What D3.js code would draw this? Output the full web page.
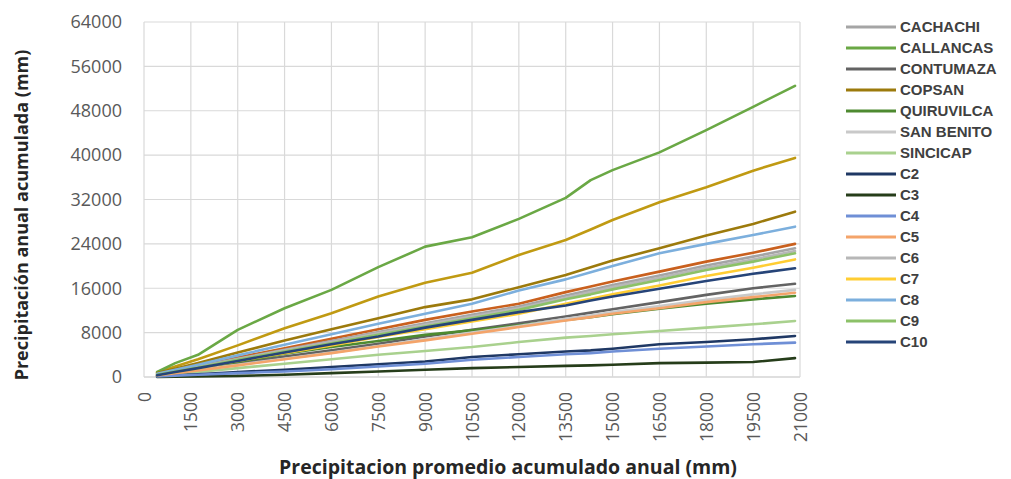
<!DOCTYPE html>
<html>
<head>
<meta charset="utf-8">
<script src="https://cdn.jsdelivr.net/npm/d3@7"></script>
<style>
  html, body { margin: 0; padding: 0; background: #ffffff; }
  svg { display: block; }
</style>
</head>
<body>
<svg id="chart" width="1011" height="479"></svg>
<script>
// ---- data ----
const xValues = [420, 1000, 1730, 3000, 4500, 6000, 7500, 9000, 10500, 12000, 13500, 14300, 15000, 16500, 18000, 19500, 20840];
const xTickValues = [0, 1500, 3000, 4500, 6000, 7500, 9000, 10500, 12000, 13500, 15000, 16500, 18000, 19500, 21000];
const yTickValues = [0, 8000, 16000, 24000, 32000, 40000, 48000, 56000, 64000];

const seriesNames = ["CACHACHI", "CALLANCAS", "CONTUMAZA", "COPSAN", "QUIRUVILCA", "SAN BENITO", "SINCICAP",
                     "C2", "C3", "C4", "C5", "C6", "C7", "C8", "C9", "C10"];
const seriesColors = ["#a5a5a5", "#6aa845", "#636363", "#9c7a0c", "#4e8a30", "#c9c9c9", "#a9d18e",
                      "#1f3864", "#263d1a", "#6f8fd6", "#f4a46a", "#b7b7b7", "#ffcd33", "#7cafdd", "#8cc168", "#264478"];

const cachachi   = [500, 1100, 1900, 3300, 4900, 6500, 8100, 9700, 11200, 12700, 14700, 15700, 16600, 18300, 20100, 21700, 23200];
const callancas  = [900, 2500, 4000, 8500, 12400, 15700, 19800, 23500, 25200, 28500, 32300, 35500, 37300, 40500, 44500, 48700, 52500];
const contumaza  = [300, 800, 1400, 2500, 3700, 4800, 6000, 7300, 8500, 9700, 10900, 11600, 12200, 13500, 14800, 16000, 16800];
const copsan     = [700, 1500, 2500, 4400, 6600, 8600, 10600, 12600, 14000, 16200, 18400, 19800, 21000, 23200, 25500, 27600, 29800];
const quiruvilca = [200, 600, 1300, 2700, 4200, 5400, 6500, 7600, 8400, 9300, 10300, 10800, 11300, 12300, 13200, 14000, 14600];
const sanBenito  = [300, 750, 1300, 2200, 3300, 4400, 5600, 6800, 8000, 9200, 10500, 11100, 11700, 12800, 13900, 14900, 15700];
const sincicap   = [200, 500, 900, 1600, 2400, 3200, 4000, 4700, 5400, 6300, 7100, 7400, 7700, 8300, 8900, 9500, 10100];
const c2         = [100, 300, 500, 900, 1300, 1800, 2300, 2800, 3600, 4100, 4600, 4800, 5100, 5900, 6300, 6800, 7400];
const c3         = [0, 50, 100, 200, 400, 700, 1000, 1300, 1600, 1800, 2000, 2100, 2200, 2500, 2600, 2700, 3400];
const c4         = [100, 250, 400, 700, 1000, 1400, 1900, 2400, 3100, 3600, 4100, 4300, 4600, 5100, 5500, 5900, 6200];
const c5         = [300, 700, 1200, 2100, 3200, 4300, 5500, 6600, 7800, 9000, 10200, 10800, 11400, 12400, 13500, 14400, 15200];
const c6         = [450, 1050, 1800, 3200, 4800, 6300, 7900, 9400, 10900, 12400, 14300, 15300, 16200, 17900, 19700, 21200, 22700];
const c7         = [350, 900, 1600, 2900, 4300, 5700, 7200, 8600, 10000, 11400, 13200, 14100, 14900, 16500, 18200, 19700, 21200];
const c8         = [600, 1300, 2200, 3900, 5800, 7700, 9600, 11400, 13200, 15600, 17600, 18900, 20000, 22300, 24000, 25600, 27100];
const c9         = [400, 1000, 1700, 3100, 4600, 6100, 7600, 9100, 10600, 12100, 14000, 14900, 15800, 17500, 19300, 20800, 22300];
const c10        = [300, 900, 1600, 2900, 4400, 5900, 7300, 8900, 10300, 11700, 12900, 13800, 14500, 15900, 17300, 18600, 19600];

// two further lines that appear in the plot but have no legend entry
const extraNames  = ["gold (sin leyenda)", "naranja (sin leyenda)"];
const extraColors = ["#c09a12", "#c9601e"];
const extraGold   = [800, 1900, 3200, 5700, 8800, 11500, 14500, 17000, 18800, 22000, 24700, 26600, 28300, 31500, 34200, 37200, 39500];
const extraOrange = [500, 1200, 2000, 3500, 5200, 6900, 8600, 10300, 11800, 13200, 15300, 16300, 17200, 19000, 20800, 22400, 24000];

const legendSeries = [cachachi, callancas, contumaza, copsan, quiruvilca, sanBenito, sincicap,
                      c2, c3, c4, c5, c6, c7, c8, c9, c10];
const extraSeries = [extraGold, extraOrange];

// ---- layout ----
const svg = d3.select("#chart");
const plot = { left: 144, right: 800, top: 22, bottom: 377 };

const x = d3.scaleLinear().domain([0, 21000]).range([plot.left, plot.right]);
const y = d3.scaleLinear().domain([0, 64000]).range([plot.bottom, plot.top]);

// gridlines
const grid = svg.append("g");
grid.selectAll("line.h").data(yTickValues).join("line")
  .attr("x1", plot.left).attr("x2", plot.right)
  .attr("y1", d => y(d)).attr("y2", d => y(d))
  .attr("stroke", d => d === 0 ? "#bfbfbf" : "#d9d9d9").attr("stroke-width", 1.2);
grid.selectAll("line.v").data(xTickValues).join("line")
  .attr("x1", d => x(d)).attr("x2", d => x(d))
  .attr("y1", plot.top).attr("y2", plot.bottom)
  .attr("stroke", "#d9d9d9").attr("stroke-width", 1.2);

// axes (labels only)
const yAxis = d3.axisLeft(y).tickValues(yTickValues).tickSize(0).tickPadding(0).tickFormat(d3.format("d"));
const gy = svg.append("g").attr("transform", `translate(${plot.left - 22},0)`).call(yAxis);
gy.select(".domain").remove();
gy.selectAll("text")
  .attr("font-family", "'Open Sans', sans-serif").attr("font-size", 18)
  .attr("fill", "#595959");

const xAxis = d3.axisBottom(x).tickValues(xTickValues).tickSize(0).tickPadding(0).tickFormat(d3.format("d"));
const gx = svg.append("g").attr("transform", `translate(0,${plot.bottom + 15})`).call(xAxis);
gx.select(".domain").remove();
gx.selectAll("text")
  .attr("font-family", "'Open Sans', sans-serif").attr("font-size", 17.5)
  .attr("fill", "#595959")
  .attr("text-anchor", "end")
  .attr("transform", "rotate(-90)")
  .attr("x", 0).attr("y", 0).attr("dy", "0.35em");

// lines
const line = d3.line().x((d, i) => x(xValues[i])).y(d => y(d));
const linesG = svg.append("g").attr("fill", "none").attr("stroke-width", 2.6)
  .attr("stroke-linejoin", "round").attr("stroke-linecap", "round");
extraSeries.forEach((s, k) => {
  linesG.append("path").datum(s).attr("d", line).attr("stroke", extraColors[k])
    .append("title").text(extraNames[k]);
});
legendSeries.forEach((s, k) => {
  linesG.append("path").datum(s).attr("d", line).attr("stroke", seriesColors[k]);
});

// legend
const legend = svg.append("g");
const legY = d3.scaleLinear().domain([0, seriesNames.length - 1]).range([27, 342]);
seriesNames.forEach((name, k) => {
  const yy = legY(k);
  legend.append("line").attr("x1", 846).attr("x2", 896).attr("y1", yy).attr("y2", yy)
    .attr("stroke", seriesColors[k]).attr("stroke-width", 3);
  legend.append("text").attr("x", 900).attr("y", yy).attr("dy", "0.36em")
    .attr("font-family", "'Liberation Sans', Arial, sans-serif").attr("font-weight", "bold")
    .attr("font-size", 15).attr("fill", "#404040").text(name);
});

// axis titles
svg.append("text")
  .attr("transform", "translate(22,215) rotate(-90)")
  .attr("text-anchor", "middle").attr("dy", "0.35em")
  .attr("font-family", "'Open Sans', sans-serif").attr("font-weight", "bold")
  .attr("font-size", 18).attr("fill", "#262626")
  .text("Precipitación anual acumulada (mm)");

svg.append("text")
  .attr("x", 508).attr("y", 467).attr("text-anchor", "middle").attr("dy", "0.35em")
  .attr("font-family", "'Open Sans', sans-serif").attr("font-weight", "bold")
  .attr("font-size", 19.5).attr("fill", "#262626")
  .text("Precipitacion promedio acumulado anual (mm)");
</script>
</body>
</html>
